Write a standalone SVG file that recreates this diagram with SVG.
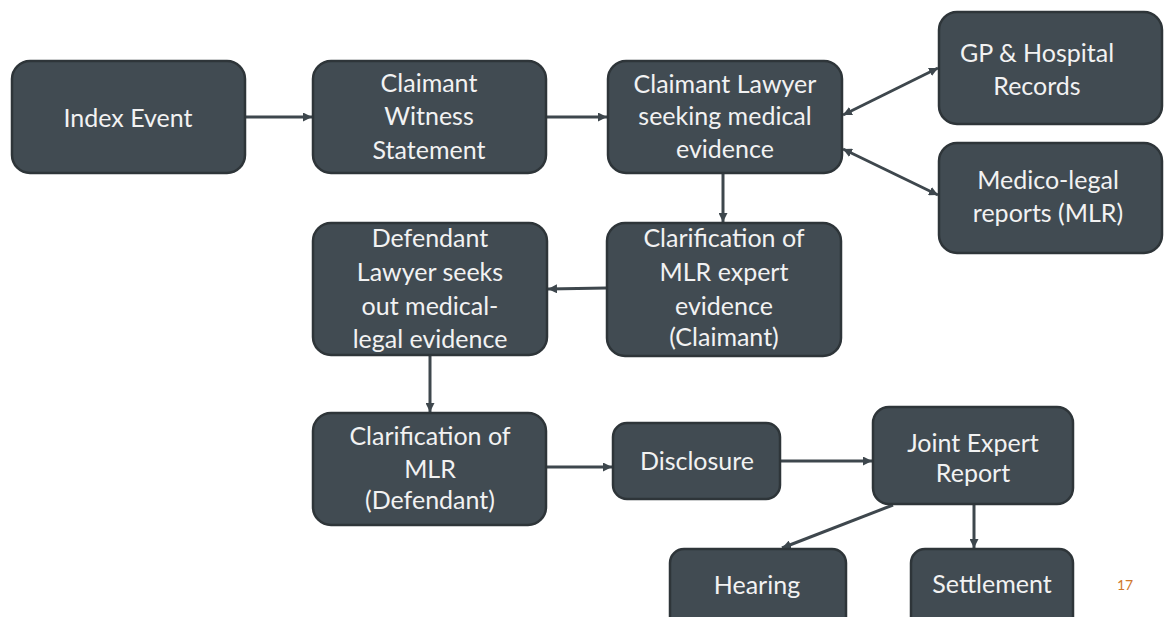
<svg xmlns="http://www.w3.org/2000/svg" width="1164" height="617" viewBox="0 0 1164 617">
<defs>
<style>
.box{fill:#414b52;stroke:#2e3539;stroke-width:2.5}
.t{font-family:"Lato","Open Sans","Liberation Sans",sans-serif;font-size:25px;fill:#f2f2f2;text-anchor:middle}
.c{fill:none;stroke:#3e474d;stroke-width:3}
.pg{font-family:"Lato","Liberation Sans",sans-serif;font-size:14px;fill:#d0782a}
</style>
<marker id="ah" viewBox="0 0 10 10" refX="10" refY="5" markerWidth="9" markerHeight="9" markerUnits="userSpaceOnUse" orient="auto-start-reverse">
<path d="M0,0 L10,5 L0,10 z" fill="#3e474d"/>
</marker>
</defs>
<rect width="1164" height="617" fill="#ffffff"/>
<g id="connectors">
<path class="c" d="M245,117 L312,117" marker-end="url(#ah)"/>
<path class="c" d="M546,117 L607,117" marker-end="url(#ah)"/>
<path class="c" d="M843,115 L938,68" marker-start="url(#ah)" marker-end="url(#ah)"/>
<path class="c" d="M843,149 L938,195" marker-start="url(#ah)" marker-end="url(#ah)"/>
<path class="c" d="M723,173 L723,222" marker-end="url(#ah)"/>
<path class="c" d="M607,288 L548,289" marker-end="url(#ah)"/>
<path class="c" d="M430,355 L430,412" marker-end="url(#ah)"/>
<path class="c" d="M546,467 L612,467" marker-end="url(#ah)"/>
<path class="c" d="M780,461 L872,461" marker-end="url(#ah)"/>
<path class="c" d="M893,505 L782,548" marker-end="url(#ah)"/>
<path class="c" d="M974,504 L974,548" marker-end="url(#ah)"/>
</g>
<g id="index-event">
<rect class="box" x="12" y="61" width="233" height="112" rx="18"/>
<text class="t" x="128" y="127">Index Event</text>
</g>
<g id="witness">
<rect class="box" x="313" y="61" width="233" height="112" rx="18"/>
<text class="t" x="429" y="92">Claimant</text>
<text class="t" x="429" y="125">Witness</text>
<text class="t" x="429" y="159">Statement</text>
</g>
<g id="claimant-lawyer">
<rect class="box" x="608" y="61" width="234" height="112" rx="18"/>
<text class="t" x="725" y="93">Claimant Lawyer</text>
<text class="t" x="725" y="125">seeking medical</text>
<text class="t" x="725" y="158">evidence</text>
</g>
<g id="gp-records">
<rect class="box" x="939" y="12" width="223" height="112" rx="18"/>
<text class="t" x="1037" y="62">GP &amp; Hospital</text>
<text class="t" x="1037" y="95">Records</text>
</g>
<g id="mlr">
<rect class="box" x="939" y="143" width="223" height="110" rx="18"/>
<text class="t" x="1048" y="189">Medico-legal</text>
<text class="t" x="1048" y="222">reports (MLR)</text>
</g>
<g id="clar-claimant">
<rect class="box" x="607" y="223" width="234" height="133" rx="18"/>
<text class="t" x="724" y="247">Clarification of</text>
<text class="t" x="724" y="281">MLR expert</text>
<text class="t" x="724" y="315">evidence</text>
<text class="t" x="724" y="346">(Claimant)</text>
</g>
<g id="defendant-lawyer">
<rect class="box" x="313" y="223" width="234" height="132" rx="18"/>
<text class="t" x="430" y="247">Defendant</text>
<text class="t" x="430" y="281">Lawyer seeks</text>
<text class="t" x="430" y="315">out medical-</text>
<text class="t" x="430" y="348">legal evidence</text>
</g>
<g id="clar-defendant">
<rect class="box" x="313" y="413" width="233" height="112" rx="18"/>
<text class="t" x="430" y="445">Clarification of</text>
<text class="t" x="430" y="478">MLR</text>
<text class="t" x="430" y="509">(Defendant)</text>
</g>
<g id="disclosure">
<rect class="box" x="613" y="423" width="167" height="76" rx="14"/>
<text class="t" x="697" y="470">Disclosure</text>
</g>
<g id="joint-report">
<rect class="box" x="873" y="407" width="200" height="97" rx="16"/>
<text class="t" x="973" y="452">Joint Expert</text>
<text class="t" x="973" y="482">Report</text>
</g>
<g id="hearing">
<rect class="box" x="670" y="549" width="176" height="82" rx="14"/>
<text class="t" x="757" y="594">Hearing</text>
</g>
<g id="settlement">
<rect class="box" x="911" y="549" width="162" height="82" rx="14"/>
<text class="t" x="992" y="593">Settlement</text>
</g>
<text class="pg" x="1117" y="590">17</text>
</svg>
